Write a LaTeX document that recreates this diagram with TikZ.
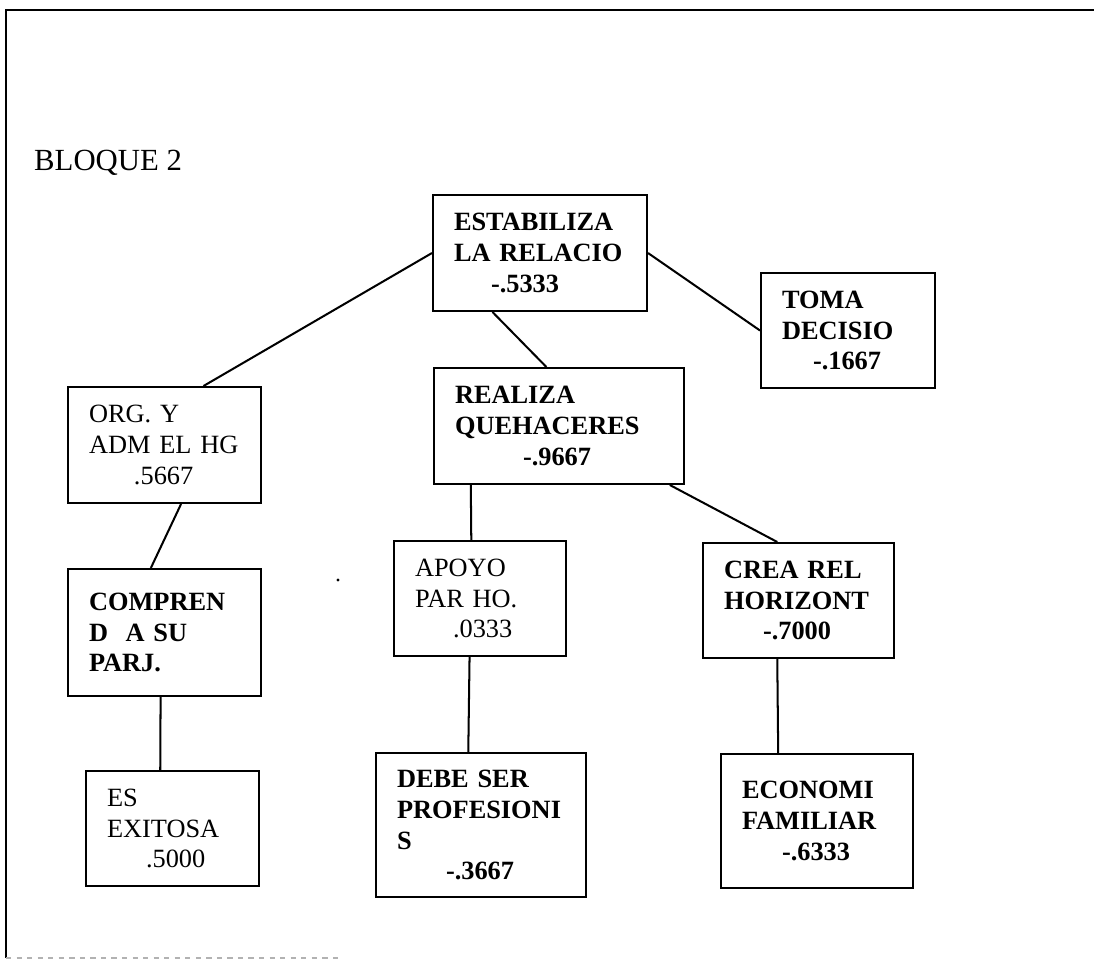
\documentclass[tikz,border=0pt]{standalone}
\usepackage{fontspec}
\setmainfont{Liberation Serif}
\usetikzlibrary{calc}

\begin{document}
\begin{tikzpicture}[x=0.02cm,y=-0.02cm,
  caja/.style={draw,line width=1.15pt,anchor=north west,align=left,
    inner xsep=0.42cm,inner ysep=0.1cm,
    font=\fontsize{15}{17.6}\selectfont},
  negra/.style={caja,font=\fontsize{15}{17.6}\selectfont\bfseries},
  linea/.style={line width=1.15pt}]
\useasboundingbox (0,0) rectangle (1094,961);

% Frame
\draw[line width=1.3pt] (1094,10) -- (6,10) -- (6,958);
\draw[gray!60,line width=0.6pt,dashed] (6,958) -- (340,958);

% Title
\node[anchor=base west,font=\fontsize{17.5}{20}\selectfont] (titulo) at (28,170) {BLOQUE 2};

% Top level
\node[negra,text width=3.44cm,minimum height=2.32cm] (est) at (432,194)
  {ESTABILIZA\\LA RELACIO\\\hspace*{0.74cm}-.5333};
\node[negra,text width=2.64cm,minimum height=2.3cm] (toma) at (760,272)
  {TOMA\\DECISIO\\\hspace*{0.62cm}-.1667};

% Second level
\node[caja,text width=3.02cm,minimum height=2.32cm] (org) at (67,386)
  {ORG. Y\\ADM EL HG\\\hspace*{0.9cm}.5667};
\node[negra,text width=4.16cm,minimum height=2.32cm] (real) at (433,367)
  {REALIZA\\QUEHACERES\\\hspace*{1.36cm}-.9667};

% Third level
\node[negra,text width=3.02cm,minimum height=2.54cm] (comp) at (67,568)
  {COMPREN\\D\ \ A SU\\PARJ.};
\node[caja,text width=2.6cm,minimum height=2.3cm] (apoyo) at (393,540)
  {APOYO\\PAR HO.\\\hspace*{0.76cm}.0333};
\node[negra,text width=2.98cm,minimum height=2.3cm] (crea) at (702,542)
  {CREA REL\\HORIZONT\\\hspace*{0.78cm}-.7000};

% Bottom level
\node[caja,text width=2.62cm,minimum height=2.3cm] (exito) at (85,770)
  {ES\\EXITOSA\\\hspace*{0.78cm}.5000};
\node[negra,text width=3.36cm,minimum height=2.88cm] (debe) at (375,752)
  {DEBE SER\\PROFESIONI\\S\\\hspace*{0.98cm}-.3667};
\node[negra,text width=3.0cm,minimum height=2.68cm] (eco) at (720,753)
  {ECONOMI\\FAMILIAR\\\hspace*{0.8cm}-.6333};

% Connectors
\draw[linea] (est.west) -- ($(org.north west)!0.70!(org.north east)$);
\draw[linea] ($(est.south west)!0.28!(est.south east)$) -- ($(real.north west)!0.45!(real.north east)$);
\draw[linea] (est.east) -- (toma.west);
\draw[linea] ($(org.south west)!0.585!(org.south east)$) -- ($(comp.north west)!0.43!(comp.north east)$);
\draw[linea] ($(real.south west)!0.15!(real.south east)$) -- ($(apoyo.north west)!0.45!(apoyo.north east)$);
\draw[linea] ($(real.south west)!0.94!(real.south east)$) -- ($(crea.north west)!0.39!(crea.north east)$);
\draw[linea] ($(comp.south west)!0.48!(comp.south east)$) -- ($(exito.north west)!0.43!(exito.north east)$);
\draw[linea] ($(apoyo.south west)!0.44!(apoyo.south east)$) -- ($(debe.north west)!0.44!(debe.north east)$);
\draw[linea] ($(crea.south west)!0.39!(crea.south east)$) -- ($(eco.north west)!0.30!(eco.north east)$);

% Speck
\fill (338,580) circle (0.9pt);
\end{tikzpicture}
\end{document}
